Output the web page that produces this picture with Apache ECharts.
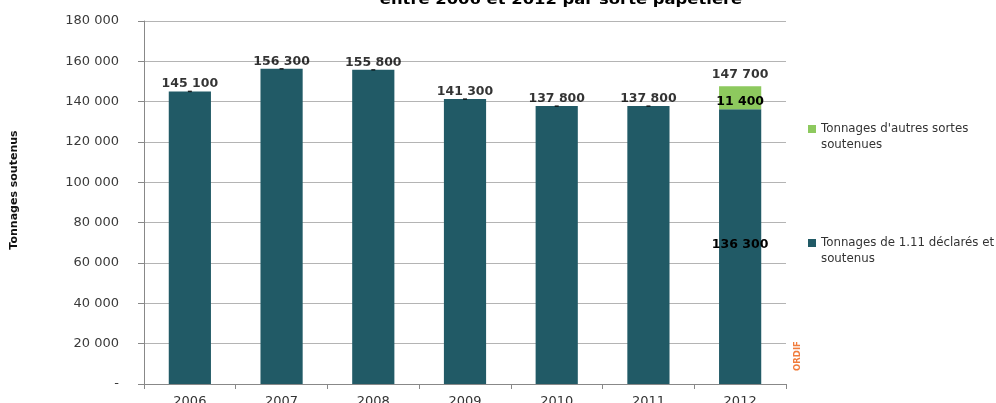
<!DOCTYPE html>
<html><head><meta charset="utf-8">
<script src="https://cdn.jsdelivr.net/npm/echarts@6/dist/echarts.min.js"></script>
<style>html,body{margin:0;padding:0;background:#fff}#c{width:996px;height:403px}</style>
</head><body><div id="c"></div>
<script>
const years = ['2006','2007','2008','2009','2010','2011','2012'];
const declared = [145100,156300,155800,141300,137800,137800,136300];
const others = [0,0,0,0,0,0,11400];
const totals = [145100,156300,155800,141300,137800,137800,147700];
const yTicks = [0,20000,40000,60000,80000,100000,120000,140000,160000,180000];
const nameOthers = "Tonnages d'autres sortes\nsoutenues";
const nameDeclared = "Tonnages de 1.11 déclarés et\nsoutenus";

const fmt = v => v === 0 ? '-' : String(v).replace(/\B(?=(\d{3})+(?!\d))/g, ' ');
const F = 'DejaVu Sans';
const icon = 'path://M0,0h8v8h-8zM0,24h0.01';
const legendText = {fontFamily: F, fontSize: 11.8, color: '#333', lineHeight: 16};
const chart = echarts.init(document.getElementById('c'));
chart.setOption({
  animation: false,
  textStyle: {fontFamily: F},
  grid: {left: 144, right: 210, top: 21, bottom: 19, containLabel: false, outerBoundsMode: 'none'},
  legend: [
    {data: [{name: nameOthers, icon: icon}], orient: 'vertical', left: 803, top: 116, itemWidth: 8, itemHeight: 24, textStyle: legendText},
    {data: [{name: nameDeclared, icon: icon}], orient: 'vertical', left: 803, top: 230, itemWidth: 8, itemHeight: 24, textStyle: legendText}
  ],
  xAxis: {
    type: 'category', data: years,
    axisLine: {lineStyle: {color: '#888'}},
    axisTick: {show: true, length: 5, lineStyle: {color: '#888'}},
    axisLabel: {color: '#333', fontSize: 13, fontFamily: F, margin: 11}
  },
  yAxis: {
    type: 'value', min: 0, max: 180000, interval: 20000,
    axisLine: {show: true, lineStyle: {color: '#888'}},
    axisTick: {show: true, length: 6, lineStyle: {color: '#888'}},
    axisLabel: {color: '#3a3a3a', fontSize: 13, fontFamily: F, margin: 25, formatter: v => yTicks.includes(v) ? fmt(v) : ''},
    splitLine: {lineStyle: {color: '#b4b4b4', width: 1}}
  },
  series: [
    {
      name: nameDeclared, type: 'bar', stack: 's', barWidth: '46%',
      itemStyle: {color: '#215a66'},
      data: declared.map((v, i) => others[i] > 0
        ? {value: v, label: {show: true, position: 'inside', formatter: fmt(v), color: '#000', fontWeight: 'bold', fontSize: 12.5, fontFamily: F, offset: [0, -2]}}
        : v)
    },
    {
      name: nameOthers, type: 'bar', stack: 's', barWidth: '46%',
      itemStyle: {color: '#8dc95e'},
      label: {show: true, position: 'inside', formatter: p => p.value > 0 ? fmt(p.value) : '', color: '#000', fontWeight: 'bold', fontSize: 12.5, fontFamily: F, offset: [0, 4]},
      data: others
    },
    {
      name: 'Total', type: 'scatter', symbol: 'rect', symbolSize: [4, 1.5],
      itemStyle: {color: '#000'}, z: 5,
      label: {show: true, position: 'top', distance: 0, formatter: p => fmt(p.value), color: '#000', fontWeight: 'bold', fontSize: 12.5, fontFamily: F},
      data: totals.map((v, i) => others[i] > 0 ? {value: v, symbolSize: 0, label: {distance: 5}} : v)
    }
  ],
  graphic: [
    {type: 'text', x: 561, y: 0, scaleX: 1.17, style: {text: 'entre 2006 et 2012 par sorte papetière', font: 'bold 14px "DejaVu Sans"', fill: '#000', textAlign: 'center', textVerticalAlign: 'middle'}},
    {type: 'text', x: 14, y: 190, rotation: Math.PI / 2, scaleX: 1.1, style: {text: 'Tonnages soutenus', font: 'bold 10px "DejaVu Sans"', fill: '#111', textAlign: 'center', textVerticalAlign: 'middle'}},
    {type: 'text', x: 798, y: 356, rotation: Math.PI / 2, style: {text: 'ORDIF', font: 'bold 8.5px "DejaVu Sans"', fill: '#f07c3c', textAlign: 'center', textVerticalAlign: 'middle'}}
  ]
});
</script></body></html>
